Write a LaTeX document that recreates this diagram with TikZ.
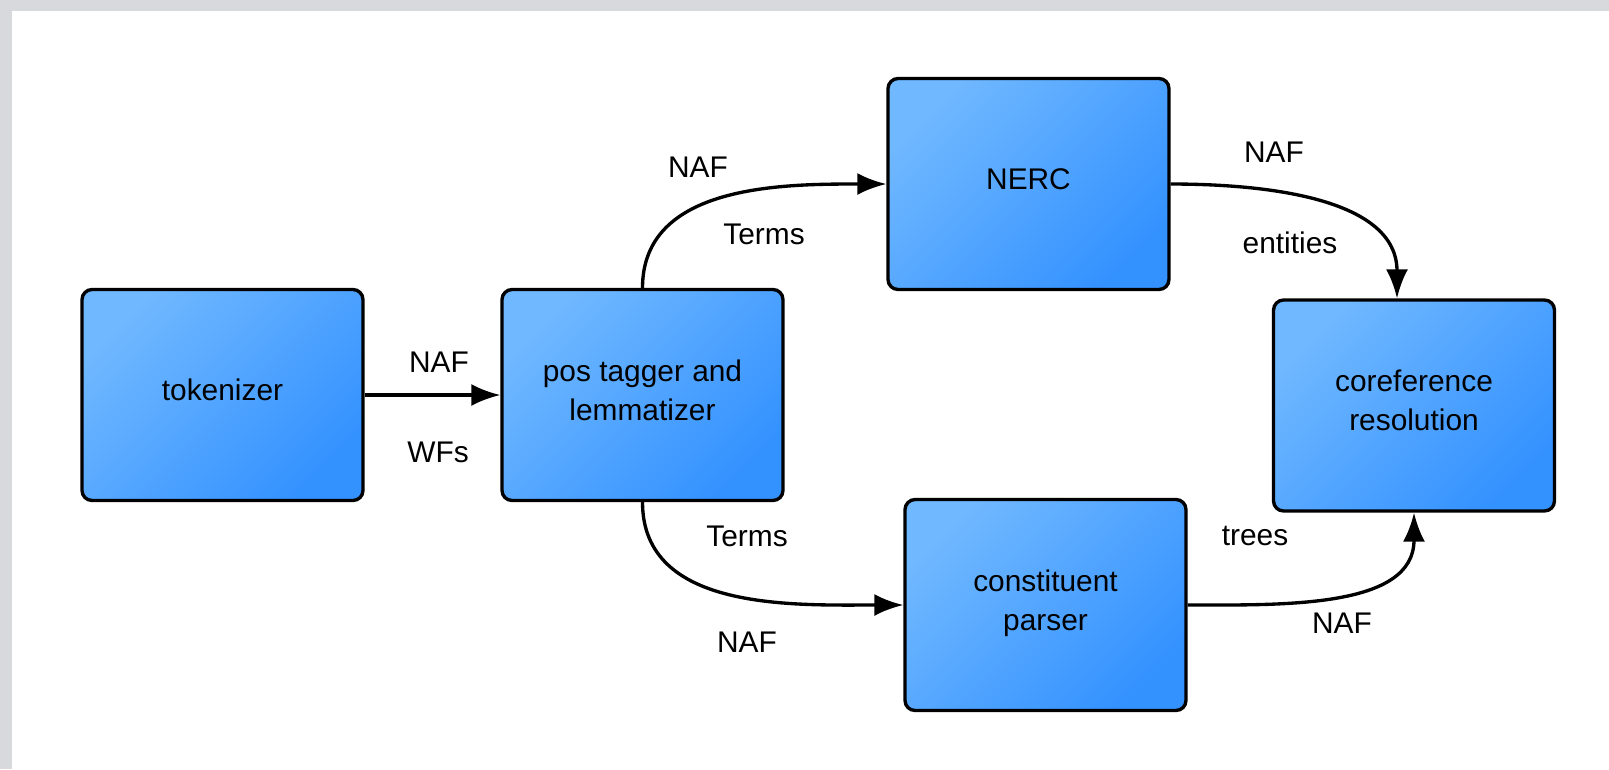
\documentclass[tikz,border=0pt]{standalone}
\usepackage{fontspec}
\setmainfont{Liberation Sans}
\usetikzlibrary{positioning}
\usetikzlibrary{arrows.meta}
\definecolor{boxlight}{RGB}{112,184,255}
\definecolor{boxdark}{RGB}{52,146,255}
\definecolor{framegray}{RGB}{216,217,220}

\begin{document}
\begin{tikzpicture}[x=0.02cm, y=-0.02cm, every node/.style={font=\fontsize{17}{22}\selectfont},
	stage/.style={draw, line width=1.9pt, rounded corners=0.2cm, minimum width=5.62cm, minimum height=4.22cm, align=center, text depth=0.2cm, top color=boxlight, bottom color=boxdark, shading angle=45},
	flow/.style={line width=1.9pt, -{Latex[length=0.58cm,width=0.44cm]}}]
				
				\fill[framegray] (0,0) rectangle (1609,769);
				\fill[white] (12,11) rectangle (1609,769);
				\useasboundingbox (0,0) rectangle (1609,769);
				
				\node[stage] (tok) at (222.5,395) {tokenizer};
				\node[stage] (pos) at (642.5,395) {pos tagger and\\lemmatizer};
				\node[stage] (nerc) at (1028.5,184) {NERC};
				\node[stage] (cons) at (1045.5,605) {constituent\\parser};
				\node[stage] (coref) at (1414,405.5) {coreference\\resolution};
				
				\draw[flow] (tok) -- (pos);
				\node (L1) at (439,362) {NAF};
				\node (L2) at (438,452) {WFs};
				
				\draw[flow] (pos.north) to[out=90,in=180] (nerc.west);
				\node (L3) at (698,167) {NAF};
				\node (L4) at (764,234) {Terms};
				
				\draw[flow] (nerc.east) to[out=0,in=90] ([xshift=-0.34cm]coref.north);
				\node (L5) at (1274,152) {NAF};
				\node (L6) at (1290,243) {entities};
				
				\draw[flow] (pos.south) to[out=-90,in=180] (cons.west);
				\node (L7) at (747,536) {Terms};
				\node (L8) at (747,642) {NAF};
				
				\draw[flow] (cons.east) to[out=0,in=-90] (coref.south);
				\node (L9) at (1255,536) {trees};
				\node (L10) at (1342,623) {NAF};
				
\end{tikzpicture}
\end{document}
